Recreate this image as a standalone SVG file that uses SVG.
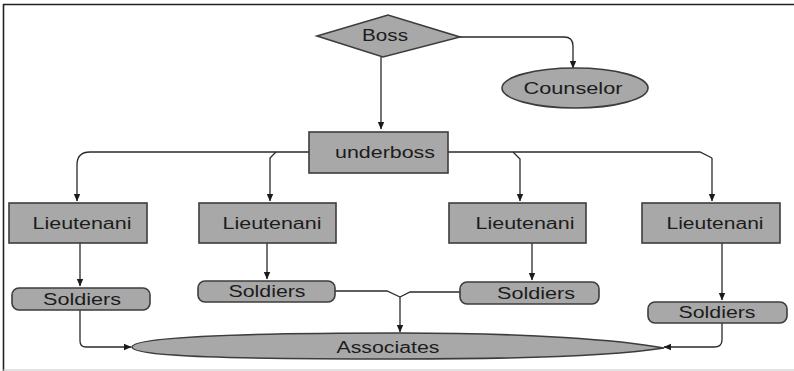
<svg xmlns="http://www.w3.org/2000/svg" width="794" height="371" viewBox="0 0 794 371">
<style>
.n{fill:#a8a8a8;stroke:#3c3c3c;stroke-width:1.6}
.t{font-family:"Liberation Sans",Arial,sans-serif;font-size:16px;fill:#1c1c1c;text-anchor:middle}
.c{fill:none;stroke:#2a2a2a;stroke-width:1.3}
.a{marker-end:url(#ah)}
</style>
<defs>
<marker id="ah" markerUnits="userSpaceOnUse" markerWidth="8" markerHeight="8" viewBox="0 0 8 8" refX="7" refY="4" orient="auto">
<path d="M0,0.8 L7.5,4 L0,7.2 Z" fill="#1a1a1a"/>
</marker>
</defs>
<rect width="794" height="371" fill="#fff"/>
<g id="frame">
<line x1="3" y1="4.5" x2="794" y2="4.5" stroke="#222" stroke-width="1.6"/>
<line x1="3.5" y1="4" x2="3.5" y2="371" stroke="#222" stroke-width="1.6"/>
<line x1="3" y1="370" x2="794" y2="370" stroke="#c8c8c8" stroke-width="1.2"/>
</g>
<g id="connectors">
<path class="c a" d="M460,37 H564 Q573,37 573,46 V68"/>
<path class="c a" d="M381,57 V129"/>
<path class="c a" d="M309,152 H90 Q77,152 77,165 V201"/>
<path class="c a" d="M276,152 L270,158 V201"/>
<path class="c" d="M448,152 H700 L712,158"/>
<path class="c a" d="M513,152 L520,159 V201"/>
<path class="c a" d="M712,158 V201"/>
<path class="c a" d="M80,243 V286"/>
<path class="c a" d="M267,243 V279"/>
<path class="c a" d="M532,243 V280"/>
<path class="c a" d="M722,243 V300"/>
<path class="c a" d="M80,310 V341 Q80,347 86,347 H131"/>
<path class="c" d="M335,291 H387 L400,297"/>
<path class="c" d="M460,292 H410 L400,297"/>
<path class="c a" d="M400,297 V332"/>
<path class="c a" d="M722,323 V340 Q722,347 714,347 H664"/>
</g>
<g id="boss">
<polygon class="n" points="317,36 388,15 460,37 383,57"/>
<text class="t" x="385" y="41" textLength="46" lengthAdjust="spacingAndGlyphs">Boss</text>
</g>
<g id="counselor">
<ellipse class="n" cx="575" cy="88" rx="73" ry="20"/>
<text class="t" x="573" y="94" textLength="99" lengthAdjust="spacingAndGlyphs">Counselor</text>
</g>
<g id="underboss">
<rect class="n" x="309" y="132" width="139" height="41"/>
<text class="t" x="385" y="158" textLength="100" lengthAdjust="spacingAndGlyphs">underboss</text>
</g>
<g id="lieutenant1">
<rect class="n" x="9" y="203" width="138" height="40"/>
<text class="t" x="82" y="229" textLength="99" lengthAdjust="spacingAndGlyphs">Lieutenani</text>
</g>
<g id="lieutenant2">
<rect class="n" x="199" y="203" width="137" height="40"/>
<text class="t" x="272" y="229" textLength="99" lengthAdjust="spacingAndGlyphs">Lieutenani</text>
</g>
<g id="lieutenant3">
<rect class="n" x="449" y="203" width="137" height="40"/>
<text class="t" x="525" y="229" textLength="99" lengthAdjust="spacingAndGlyphs">Lieutenani</text>
</g>
<g id="lieutenant4">
<rect class="n" x="642" y="203" width="138" height="40"/>
<text class="t" x="715" y="229" textLength="97" lengthAdjust="spacingAndGlyphs">Lieutenani</text>
</g>
<g id="soldiers1">
<rect class="n" x="12" y="288" width="138" height="22" rx="7"/>
<text class="t" x="82" y="305" textLength="78" lengthAdjust="spacingAndGlyphs">Soldiers</text>
</g>
<g id="soldiers2">
<rect class="n" x="198" y="281" width="137" height="21" rx="7"/>
<text class="t" x="267" y="297" textLength="77" lengthAdjust="spacingAndGlyphs">Soldiers</text>
</g>
<g id="soldiers3">
<rect class="n" x="460" y="282" width="139" height="22" rx="7"/>
<text class="t" x="536" y="299" textLength="78" lengthAdjust="spacingAndGlyphs">Soldiers</text>
</g>
<g id="soldiers4">
<rect class="n" x="648" y="302" width="139" height="21" rx="7"/>
<text class="t" x="717" y="318" textLength="77" lengthAdjust="spacingAndGlyphs">Soldiers</text>
</g>
<g id="associates">
<path class="n" d="M132,347 C132,337 240,333 400,333 C530,333 620,340 664,348 C620,355 530,359 400,359 C240,359 132,357 132,347 Z"/>
<text class="t" x="388" y="353" textLength="103" lengthAdjust="spacingAndGlyphs">Associates</text>
</g>
</svg>
